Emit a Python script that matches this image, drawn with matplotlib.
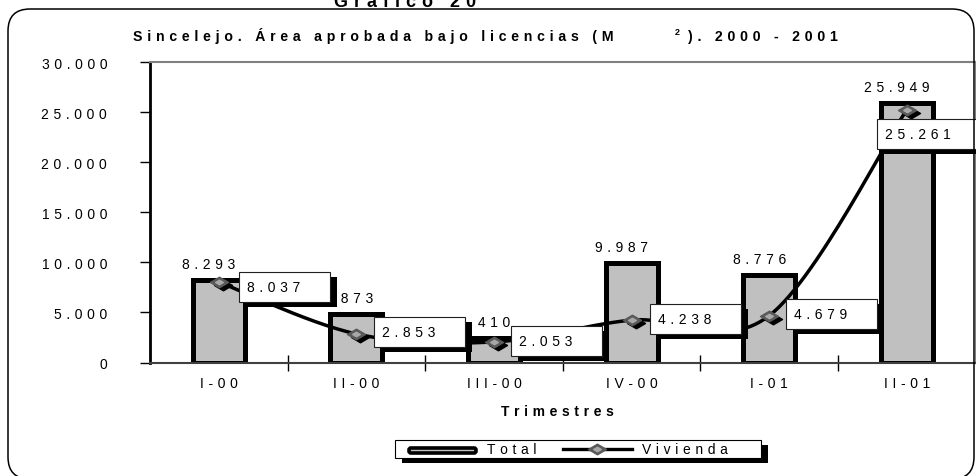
import numpy as np
import matplotlib
matplotlib.use('Agg')
import matplotlib.pyplot as plt
from matplotlib.patches import Rectangle, FancyBboxPatch
from matplotlib.path import Path
from matplotlib.lines import Line2D
import matplotlib.transforms as mtrans

# ---------------- data ----------------
categories = ['I-00', 'II-00', 'III-00', 'IV-00', 'I-01', 'II-01']
total = [8293, 4873, 2410, 9987, 8776, 25949]
vivienda = [8037, 2853, 2053, 4238, 4679, 25261]
yticks = [0, 5000, 10000, 15000, 20000, 25000, 30000]
series_names = ['Total', 'Vivienda']
title_a = 'Sincelejo. Área aprobada bajo licencias (M'
title_b = '2'
title_c = '). 2000 - 2001'
top_title = 'Gráfico 20'
xlabel = 'Trimestres'

# label box placement (pixel offsets from each Vivienda point: dx, dy_bottom, width)
box_off = [(20, -20, 91), (18, -13, 91), (17, -14, 91), (18, -14, 91), (17, -13, 91), (-30, -39, 110)]

plt.rcParams['font.family'] = ['Liberation Sans', 'DejaVu Sans']
GAP = '\u2004'


def sp(s, gap=GAP):
    return gap.join(s)


def fmt(v):
    return f'{v:,}'.replace(',', '.')


W, H = 976, 477
fig = plt.figure(figsize=(W / 100, H / 100), dpi=100)
fig.patch.set_facecolor('white')

# outer rounded frame (display pixels)
frame = FancyBboxPatch((8, -3), 966, 470, boxstyle='round,pad=0,rounding_size=22',
                       transform=mtrans.IdentityTransform(), fc='none', ec='black', lw=1.1)
fig.add_artist(frame)

left, right, top, bottom = 150, 975.6, 63.3, 363.5
ax = fig.add_axes([left / W, 1 - bottom / H, (right - left) / W, (bottom - top) / H])
ax.set_facecolor('white')
x = np.arange(len(categories))

ax.bar(x, total, width=0.378, color='#c0c0c0', edgecolor='black', linewidth=3.6, zorder=2)

# smoothed Vivienda line (Catmull-Rom through the data points)
pts = np.column_stack([x, vivienda]).astype(float)
ext = np.vstack([pts[0], pts, pts[-1]])
curve = []
for i in range(1, len(ext) - 2):
    p0, p1, p2, p3 = ext[i - 1], ext[i], ext[i + 1], ext[i + 2]
    for t in np.linspace(0, 1, 30):
        t2, t3 = t * t, t * t * t
        c = 0.5 * ((2 * p1) + (-p0 + p2) * t + (2 * p0 - 5 * p1 + 4 * p2 - p3) * t2 + (-p0 + 3 * p1 - 3 * p2 + p3) * t3)
        curve.append(c)
curve = np.array(curve)
ax.plot(curve[:, 0], curve[:, 1], color='black', lw=2.5, zorder=3, solid_capstyle='round')

diamond = Path([(0, 1), (1.7, 0), (0, -1), (-1.7, 0), (0, 1)],
               [Path.MOVETO, Path.LINETO, Path.LINETO, Path.LINETO, Path.CLOSEPOLY])
shadow_tr = mtrans.offset_copy(ax.transData, fig=fig, x=4, y=-3, units='dots')
ax.plot(x, vivienda, ls='none', marker=diamond, ms=13, mfc='black', mec='black', zorder=4, transform=shadow_tr)
ax.plot(x, vivienda, ls='none', marker=diamond, ms=13, mfc='#5a5a5a', mec='#5a5a5a', zorder=4.1)
ax.plot(x, vivienda, ls='none', marker=diamond, ms=5.5, mfc='#a8a8a8', mec='#a8a8a8', zorder=4.2)

# Total labels
for i, v in enumerate(total):
    ax.annotate(sp(fmt(v)), xy=(i, v), xytext=(-10, 12), textcoords='offset pixels',
                ha='center', va='baseline', fontsize=10, zorder=3.5, annotation_clip=False)

# Vivienda label boxes with black shadows
for i, v in enumerate(vivienda):
    dx, dy, bw = box_off[i]
    base = mtrans.ScaledTranslation(i, v, ax.transData)
    sh = Rectangle((dx + 7, dy - 5), bw, 30, transform=mtrans.IdentityTransform() + base,
                   fc='black', ec='none', zorder=5, clip_on=False)
    bx = Rectangle((dx, dy), bw, 30, transform=mtrans.IdentityTransform() + base,
                   fc='white', ec='#202020', lw=0.8, zorder=5.1, clip_on=False)
    ax.add_artist(sh)
    ax.add_artist(bx)
    ax.annotate(sp(fmt(v)), xy=(i, v), xytext=(dx + 8, dy + 15), textcoords='offset pixels',
                ha='left', va='center', fontsize=10, zorder=5.2, annotation_clip=False)

ax.set_xlim(-0.5, 5.5)
ax.set_ylim(0, 30000)
ax.set_yticks(yticks)
ax.set_yticklabels([sp(fmt(v)) for v in yticks], fontsize=10)
ax.set_xticks(x)
ax.set_xticklabels([sp(c) for c in categories], fontsize=10)
ax.set_xticks(np.arange(0.5, 5.0, 1.0), minor=True)
ax.tick_params(axis='y', direction='out', length=7, width=1, pad=23.8, colors='black')
ax.tick_params(axis='x', which='major', length=0, pad=10)
ax.tick_params(axis='x', which='minor', direction='inout', length=11, width=1)

ax.spines['left'].set_color('black')
ax.spines['left'].set_linewidth(2)
ax.spines['bottom'].set_color('#404040')
ax.spines['bottom'].set_linewidth(1.5)
for s in ['top', 'right']:
    ax.spines[s].set_color('#808080')
    ax.spines[s].set_linewidth(1.5)


def fx(px):
    return px / W


def fy(py):
    return 1 - py / H


# titles
fig.text(fx(405), fy(7), sp(top_title), ha='center', va='baseline', fontsize=13, fontweight='bold')
fig.text(fx(133), fy(41), sp(title_a), ha='left', va='baseline', fontsize=10.2, fontweight='bold')
fig.text(fx(675), fy(35), title_b, ha='left', va='baseline', fontsize=6.5, fontweight='bold')
fig.text(fx(688), fy(41), sp(title_c), ha='left', va='baseline', fontsize=10.2, fontweight='bold')
fig.text(fx(557), fy(412), sp(xlabel), ha='center', va='center', fontsize=10, fontweight='bold')

# legend (manual)
fig.add_artist(Rectangle((402, H - 464), 366, 18, transform=mtrans.IdentityTransform(), fc='black', ec='none'))
fig.add_artist(Rectangle((395, H - 459), 366, 18, transform=mtrans.IdentityTransform(), fc='white', ec='black', lw=0.8))
fig.add_artist(FancyBboxPatch((409, H - 454), 67, 5, boxstyle='round,pad=0,rounding_size=2',
                              transform=mtrans.IdentityTransform(), fc='#c0c0c0', ec='black', lw=2.6))
fig.text(fx(487), fy(450), sp(series_names[0]), ha='left', va='center', fontsize=10)
fig.add_artist(Line2D([fx(563), fx(632)], [fy(450), fy(450)], color='black', lw=2.4, transform=fig.transFigure))
fig.add_artist(Line2D([fx(597)], [fy(450)], ls='none', marker=diamond, ms=13, mfc='#5a5a5a', mec='#5a5a5a', transform=fig.transFigure))
fig.add_artist(Line2D([fx(597)], [fy(450)], ls='none', marker=diamond, ms=5.5, mfc='#a8a8a8', mec='#a8a8a8', transform=fig.transFigure))
fig.text(fx(642), fy(450), sp(series_names[1]), ha='left', va='center', fontsize=10)

fig.savefig('out.png', dpi=100, facecolor='white')
